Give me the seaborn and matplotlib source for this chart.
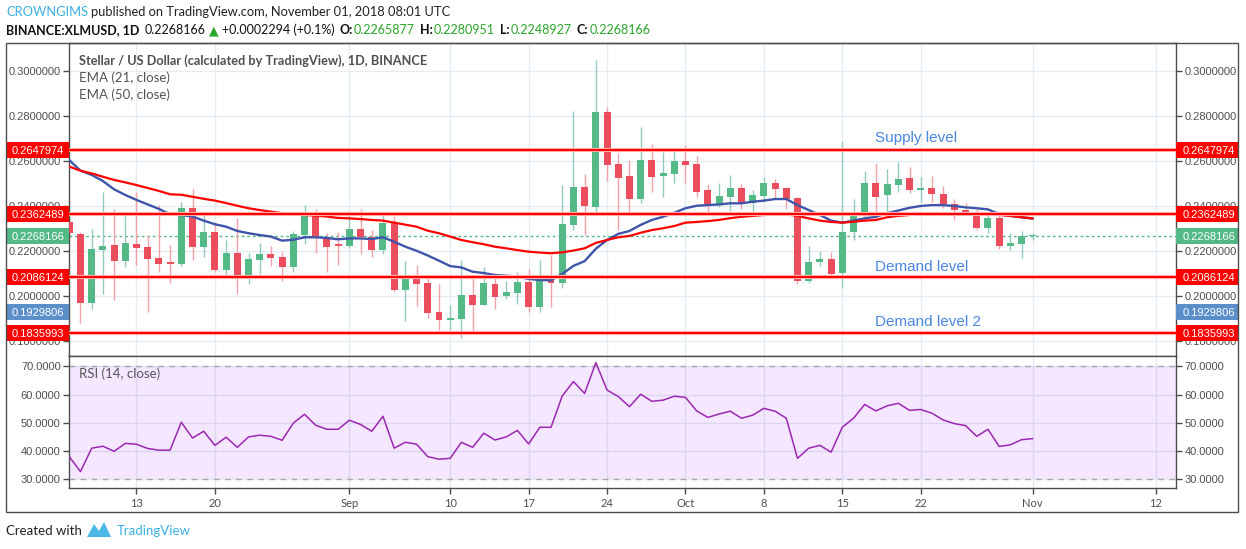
import numpy as np
import pandas as pd
import seaborn as sns
import matplotlib.pyplot as plt
import matplotlib.dates as mdates
import matplotlib.transforms as mtransforms
from matplotlib.patches import Rectangle, Polygon

# Daily XLM/USD candles, 7 Aug - 1 Nov 2018
dates = pd.date_range("2018-08-07", "2018-11-01", freq="D")

opens = [0.2330, 0.2276, 0.1970, 0.2204, 0.2227, 0.2156, 0.2231, 0.2218, 0.2169, 0.2150,
         0.2144, 0.2390, 0.2219, 0.2284, 0.2116, 0.2191, 0.2076, 0.2160, 0.2187, 0.2173,
         0.2130, 0.2271, 0.2356, 0.2253, 0.2229,
         0.2222, 0.2298, 0.2264, 0.2206, 0.2324, 0.2027, 0.2080, 0.2058, 0.1929, 0.1895,
         0.1899, 0.2004, 0.1961, 0.2053, 0.2001, 0.2015, 0.2062, 0.1953, 0.2071, 0.2058,
         0.2316, 0.2484, 0.2397, 0.2818, 0.2587, 0.2533, 0.2432, 0.2604, 0.2535, 0.2543,
         0.2600, 0.2587, 0.2471, 0.2409, 0.2441, 0.2480, 0.2415, 0.2446, 0.2502, 0.2480,
         0.2436, 0.2067, 0.2151, 0.2164, 0.2102, 0.2284, 0.2360, 0.2502, 0.2450, 0.2493,
         0.2524, 0.2472, 0.2480, 0.2453, 0.2408, 0.2382, 0.2373, 0.2302, 0.2347, 0.2224,
         0.2232,
         0.2265877]
highs = [0.2350, 0.2286, 0.2298, 0.2464, 0.2385, 0.2357, 0.2464, 0.2271, 0.2404, 0.2227,
         0.2419, 0.2476, 0.2364, 0.2330, 0.2249, 0.2348, 0.2191, 0.2236, 0.2224, 0.2196,
         0.2289, 0.2404, 0.2387, 0.2279, 0.2284,
         0.2378, 0.2387, 0.2293, 0.2373, 0.2357, 0.2156, 0.2139, 0.2095, 0.2053, 0.1960,
         0.2160, 0.2086, 0.2130, 0.2104, 0.2067, 0.2107, 0.2120, 0.2160, 0.2181, 0.2493,
         0.2822, 0.2542, 0.3049, 0.2841, 0.2636, 0.2604, 0.2751, 0.2674, 0.2640, 0.2653,
         0.2671, 0.2622, 0.2498, 0.2502, 0.2538, 0.2498, 0.2471, 0.2529, 0.2520, 0.2484,
         0.2440, 0.2222, 0.2200, 0.2196, 0.2690, 0.2431, 0.2556, 0.2591, 0.2564, 0.2596,
         0.2573, 0.2529, 0.2533, 0.2489, 0.2431, 0.2412, 0.2385, 0.2375, 0.2364, 0.2280,
         0.2289,
         0.2280951]
lows = [0.2250, 0.1881, 0.1942, 0.2009, 0.1982, 0.2130, 0.2139, 0.1930, 0.2107, 0.2059,
        0.2135, 0.2160, 0.2175, 0.2108, 0.2086, 0.2009, 0.2053, 0.2099, 0.2135, 0.2068,
        0.2107, 0.2231, 0.2191, 0.2107, 0.2139,
        0.2215, 0.2187, 0.2175, 0.2187, 0.2018, 0.1890, 0.1957, 0.1904, 0.1850, 0.1841,
        0.1812, 0.1841, 0.1958, 0.1941, 0.1988, 0.1963, 0.1930, 0.1927, 0.1953, 0.2037,
        0.2293, 0.2271, 0.2368, 0.2512, 0.2293, 0.2368, 0.2415, 0.2464, 0.2441, 0.2504,
        0.2504, 0.2441, 0.2361, 0.2397, 0.2379, 0.2385, 0.2368, 0.2419, 0.2432, 0.2385,
        0.2055, 0.2059, 0.2135, 0.2089, 0.2037, 0.2249, 0.2338, 0.2333, 0.2373, 0.2462,
        0.2456, 0.2419, 0.2419, 0.2392, 0.2338, 0.2360, 0.2293, 0.2280, 0.2210, 0.2206,
        0.2170,
        0.2248927]
closes = [0.2278, 0.1970, 0.2209, 0.2222, 0.2156, 0.2236, 0.2215, 0.2164, 0.2144, 0.2144,
          0.2390, 0.2219, 0.2284, 0.2116, 0.2191, 0.2076, 0.2164, 0.2187, 0.2169, 0.2129,
          0.2276, 0.2356, 0.2264, 0.2219, 0.2224,
          0.2298, 0.2264, 0.2206, 0.2324, 0.2027, 0.2080, 0.2053, 0.1926, 0.1895, 0.1903,
          0.2004, 0.1961, 0.2058, 0.1997, 0.2018, 0.2062, 0.1953, 0.2071, 0.2058, 0.2320,
          0.2484, 0.2400, 0.2818, 0.2582, 0.2526, 0.2432, 0.2604, 0.2530, 0.2547, 0.2600,
          0.2582, 0.2464, 0.2409, 0.2444, 0.2480, 0.2415, 0.2448, 0.2502, 0.2476, 0.2431,
          0.2067, 0.2151, 0.2163, 0.2098, 0.2284, 0.2369, 0.2502, 0.2440, 0.2498, 0.2520,
          0.2471, 0.2480, 0.2453, 0.2410, 0.2382, 0.2368, 0.2302, 0.2347, 0.2224, 0.2236,
          0.2266,
          0.2268166]

ema21 = [0.2604, 0.2557, 0.2538, 0.2511, 0.2474, 0.2449, 0.2427, 0.2407, 0.2387, 0.2363,
         0.2360, 0.2353, 0.2335, 0.2319, 0.2308, 0.2289, 0.2279, 0.2271, 0.2264, 0.2246,
         0.2250, 0.2261, 0.2261, 0.2258, 0.2252,
         0.2256, 0.2256, 0.2253, 0.2261, 0.2241, 0.2219, 0.2201, 0.2180, 0.2157, 0.2133,
         0.2127, 0.2108, 0.2102, 0.2093, 0.2090, 0.2086, 0.2076, 0.2071, 0.2070, 0.2098,
         0.2134, 0.2155, 0.2210, 0.2249, 0.2276, 0.2289, 0.2316, 0.2338, 0.2352, 0.2370,
         0.2390, 0.2401, 0.2404, 0.2407, 0.2412, 0.2412, 0.2419, 0.2424, 0.2431, 0.2431,
         0.2404, 0.2382, 0.2360, 0.2335, 0.2326, 0.2335, 0.2345, 0.2352, 0.2368, 0.2380,
         0.2392, 0.2400, 0.2404, 0.2404, 0.2400, 0.2394, 0.2390, 0.2385, 0.2364, 0.2356,
         0.2350,
         0.2344]
ema50 = [0.2575, 0.2557, 0.2545, 0.2530, 0.2516, 0.2505, 0.2493, 0.2480, 0.2467, 0.2452,
         0.2450, 0.2441, 0.2432, 0.2424, 0.2413, 0.2401, 0.2390, 0.2382, 0.2375, 0.2368,
         0.2363, 0.2360, 0.2357, 0.2353, 0.2347,
         0.2345, 0.2342, 0.2338, 0.2335, 0.2326, 0.2317, 0.2308, 0.2290, 0.2279, 0.2264,
         0.2249, 0.2239, 0.2230, 0.2219, 0.2212, 0.2204, 0.2197, 0.2193, 0.2190, 0.2194,
         0.2202, 0.2212, 0.2236, 0.2249, 0.2261, 0.2267, 0.2281, 0.2293, 0.2301, 0.2311,
         0.2326, 0.2329, 0.2333, 0.2338, 0.2346, 0.2352, 0.2356, 0.2360, 0.2363, 0.2363,
         0.2356, 0.2345, 0.2335, 0.2329, 0.2326, 0.2330, 0.2335, 0.2338, 0.2350, 0.2356,
         0.2360, 0.2367, 0.2367, 0.2367, 0.2367, 0.2366, 0.2364, 0.2363, 0.2360, 0.2356,
         0.2350,
         0.2345]
rsi = [38.0, 32.7, 41.0, 41.7, 39.9, 42.7, 42.4, 40.9, 40.3, 40.3,
       50.2, 44.6, 47.0, 42.0, 44.9, 41.3, 45.0, 45.6, 45.2, 43.8,
       49.9, 53.0, 49.1, 47.7, 47.7,
       50.9, 49.4, 47.0, 52.3, 41.0, 43.1, 42.4, 38.0, 37.1, 37.4,
       43.1, 41.3, 46.3, 43.9, 45.0, 47.3, 42.5, 48.4, 48.4, 59.5,
       64.6, 60.4, 71.3, 61.6, 59.3, 55.7, 60.1, 57.6, 58.0, 59.4,
       59.0, 54.2, 51.9, 53.1, 54.1, 51.6, 52.7, 55.1, 54.1, 51.6,
       37.4, 41.0, 42.0, 39.6, 48.4, 51.6, 56.5, 54.2, 56.0, 56.9,
       54.4, 54.7, 53.4, 51.0, 49.7, 49.0, 45.2, 47.7, 41.6, 42.2,
       44.0,
       44.4]

levels = [0.2647974, 0.2362489, 0.2086124, 0.1835993]
last_price = 0.2268166
blue_mark = 0.1929806

price_ticks = [0.18, 0.20, 0.22, 0.24, 0.26, 0.28, 0.30]
rsi_ticks = [30, 40, 50, 60, 70]
tick_dates = ["2018-08-13", "2018-08-20", "2018-09-01", "2018-09-10", "2018-09-17", "2018-09-24",
              "2018-10-01", "2018-10-08", "2018-10-15", "2018-10-22", "2018-11-01", "2018-11-12"]
tick_labels = ["13", "20", "Sep", "10", "17", "24", "Oct", "8", "15", "22", "Nov", "12"]

df = pd.DataFrame({"date": dates, "open": opens, "high": highs, "low": lows, "close": closes,
                   "ema21": ema21, "ema50": ema50, "rsi": rsi})
df["x"] = mdates.date2num(df["date"])
tick_x = mdates.date2num(pd.to_datetime(tick_dates))

UP, DOWN = "#53b987", "#eb4d5c"
UP_WICK, DOWN_WICK = "#93c9c0", "#f2a1a9"
FRAME = "#4d4d4d"
TXT = "#4f4f4f"
GRID = "#e4ecf2"

sns.set_theme(style="white")
plt.rcParams["font.family"] = ["Liberation Sans", "DejaVu Sans"]
CAL = ["Lato", "DejaVu Sans"]

W, H = 1246, 549
fig = plt.figure(figsize=(W / 100, H / 100), dpi=100)
fx = lambda px: px / W
fy = lambda py: 1 - py / H
renderer = fig.canvas.get_renderer()

L, R = 69, 1176
ax = fig.add_axes([fx(L), fy(356), (R - L) / W, (356 - 43) / H])
axr = fig.add_axes([fx(L), fy(488), (R - L) / W, (488 - 356) / H])

aug13 = mdates.date2num(pd.Timestamp("2018-08-13"))
pxday = (1156 - 136.5) / 91
xlim = (aug13 + (L - 136.5) / pxday, aug13 + (R - 136.5) / pxday)
ylim = (0.20 - 60 / 2250, 0.20 + 253 / 2250)

# candles
up = df["close"] >= df["open"]
body_lo = np.minimum(df["open"], df["close"])
body_h = np.maximum((df["close"] - df["open"]).abs(), 0.00045)
ax.vlines(df["x"], df["low"], df["high"], colors=np.where(up, UP_WICK, DOWN_WICK), lw=1, zorder=2)
ax.bar(df["x"], body_h, bottom=body_lo, width=0.62, color=np.where(up, UP, DOWN), linewidth=0, zorder=3)

# moving averages
sns.lineplot(data=df, x="x", y="ema21", ax=ax, color="#3f55aa", lw=1.7, zorder=4)
sns.lineplot(data=df, x="x", y="ema50", ax=ax, color="#ff0000", lw=1.6, zorder=4)

# horizontal levels
ax.axhline(last_price, color=UP, lw=1, ls=(0, (2, 2)), zorder=1.5)
for lv in levels:
    ax.axhline(lv, color="#ffb4b4", lw=3, zorder=5)
    ax.axhline(lv, color="#ff0000", lw=1.5, zorder=5.1)

ax.set_xlim(*xlim)
ax.set_ylim(*ylim)
ax.set_xticks(tick_x)
ax.set_yticks(price_ticks)
ax.set_yticklabels([f"{v:.7f}" for v in price_ticks])
ax.set_axisbelow(True)
ax.grid(True, color=GRID, lw=1)
ax.tick_params(axis="x", bottom=False, labelbottom=False)
ax.tick_params(axis="y", left=True, right=True, labelleft=True, labelright=True, direction="out",
               length=4, width=1, color=FRAME, labelcolor=TXT, labelsize=8, pad=2)
ax.set_xlabel("")
ax.set_ylabel("")

# price tags on both scales
tag_tf = mtransforms.blended_transform_factory(fig.transFigure, ax.transData)
ppx = (ylim[1] - ylim[0]) / 313
tags = [(levels[0], "#ff0000"), (levels[1], "#ff0000"), (last_price, UP),
        (levels[2], "#ff0000"), (blue_mark, "#5b8fc9"), (levels[3], "#ff0000")]
for val, col in tags:
    for x0, w, tx, ha in ((7, 62, 64, "right"), (1176, 62, 1183, "left")):
        ax.add_patch(Rectangle((fx(x0), val - 8 * ppx), w / W, 16 * ppx, transform=tag_tf,
                               fc=col, ec="none", clip_on=False, zorder=20))
        ax.text(fx(tx), val, f"{val:.7f}", transform=tag_tf, ha=ha, va="center_baseline",
                color="white", fontsize=8, clip_on=False, zorder=21)

level_notes = [("Supply level", 138), ("Demand level", 267), ("Demand level 2", 322)]
for s, py in level_notes:
    ax.text(fx(875), 0.20 + (296 - py) / 2250, s, transform=tag_tf, color="#4a86df",
            fontsize=11, va="center", zorder=6)

# RSI pane
axr.axhspan(30, 70, color="#9915ff", alpha=0.1, lw=0, zorder=1)
for lv in (30, 70):
    axr.axhline(lv, color="#a8a8a8", lw=1, ls=(0, (4, 4)), zorder=2)
sns.lineplot(data=df, x="x", y="rsi", ax=axr, color="#9c27b0", lw=1.1, zorder=3)
axr.set_xlim(*xlim)
axr.set_ylim(26.9, 73.65)
axr.set_yticks(rsi_ticks)
axr.set_yticklabels([f"{v:.4f}" for v in rsi_ticks])
axr.set_xticks(tick_x)
axr.set_xticklabels(tick_labels)
axr.set_axisbelow(True)
axr.grid(True, color=GRID, lw=1)
axr.tick_params(axis="y", left=True, right=True, labelleft=True, labelright=True, direction="out",
                length=4, width=1, color=FRAME, labelcolor=TXT, labelsize=8, pad=2)
axr.tick_params(axis="x", bottom=True, direction="out", length=4, width=1, color=FRAME,
                labelcolor=TXT, labelsize=8, pad=3)
axr.set_xlabel("")
axr.set_ylabel("")
for lab in axr.get_xticklabels():
    lab.set_family(CAL)

for a in (ax, axr):
    for s in a.spines.values():
        s.set_visible(True)
        s.set_color(FRAME)
        s.set_linewidth(1)

fig.add_artist(Rectangle((fx(6), fy(512)), (1238 - 6) / W, (512 - 43) / H, transform=fig.transFigure,
                         fill=False, ec=FRAME, lw=1))

# legend texts inside panes
fig.text(fx(79), fy(61), "Stellar / US Dollar (calculated by TradingView), 1D, BINANCE", family=CAL,
         fontsize=9.2, weight="bold", color="#505050", va="center")
fig.text(fx(79), fy(78), "EMA (21, close)", family=CAL, fontsize=9.5, color="#555555", va="center")
fig.text(fx(79), fy(94.5), "EMA (50, close)", family=CAL, fontsize=9.5, color="#555555", va="center")
fig.text(fx(79), fy(374), "RSI (14, close)", family=CAL, fontsize=9.5, color="#555555", va="center")


def text_run(x0, py, parts, size):
    # lay text pieces side by side, each gap given in pixels
    x = x0
    for s, col, wt, gap in parts:
        t = fig.text(fx(x), fy(py), s, family=CAL, fontsize=size, color=col, weight=wt, va="center")
        x += t.get_window_extent(renderer).width + gap


# header
GREEN = "#2aa52a"
DARK = "#111111"
text_run(6, 12, [("CROWNGIMS", "#3aafe3", "normal", 3),
                 ("published on TradingView.com, November 01, 2018 08:01 UTC", "#222222", "normal", 0)], 9.3)
text_run(6, 30, [("BINANCE:XLMUSD, 1D", DARK, "bold", 5), ("0.2268166", DARK, "normal", 4),
                 ("\u25b2", GREEN, "normal", 3), ("+0.0002294 (+0.1%)", DARK, "normal", 5),
                 ("O:", DARK, "bold", 1), ("0.2265877", GREEN, "normal", 5),
                 ("H:", DARK, "bold", 1), ("0.2280951", GREEN, "normal", 5),
                 ("L:", DARK, "bold", 1), ("0.2248927", GREEN, "normal", 5),
                 ("C:", DARK, "bold", 1), ("0.2268166", GREEN, "normal", 0)], 9.0)

# footer
fig.text(fx(6), fy(531), "Created with", family=CAL, fontsize=9.5, color="#222222", va="center")
logo = [(87, 537), (94, 524), (99, 531), (104, 522), (111, 537)]
fig.add_artist(Polygon([(fx(a), fy(b)) for a, b in logo], closed=True, transform=fig.transFigure,
                       fc="#4cb8e8", ec="none"))
fig.text(fx(117), fy(531), "TradingView", family=CAL, fontsize=9.5, color="#3aafe3", va="center")

fig.savefig("out.png", dpi=100, facecolor="white")
